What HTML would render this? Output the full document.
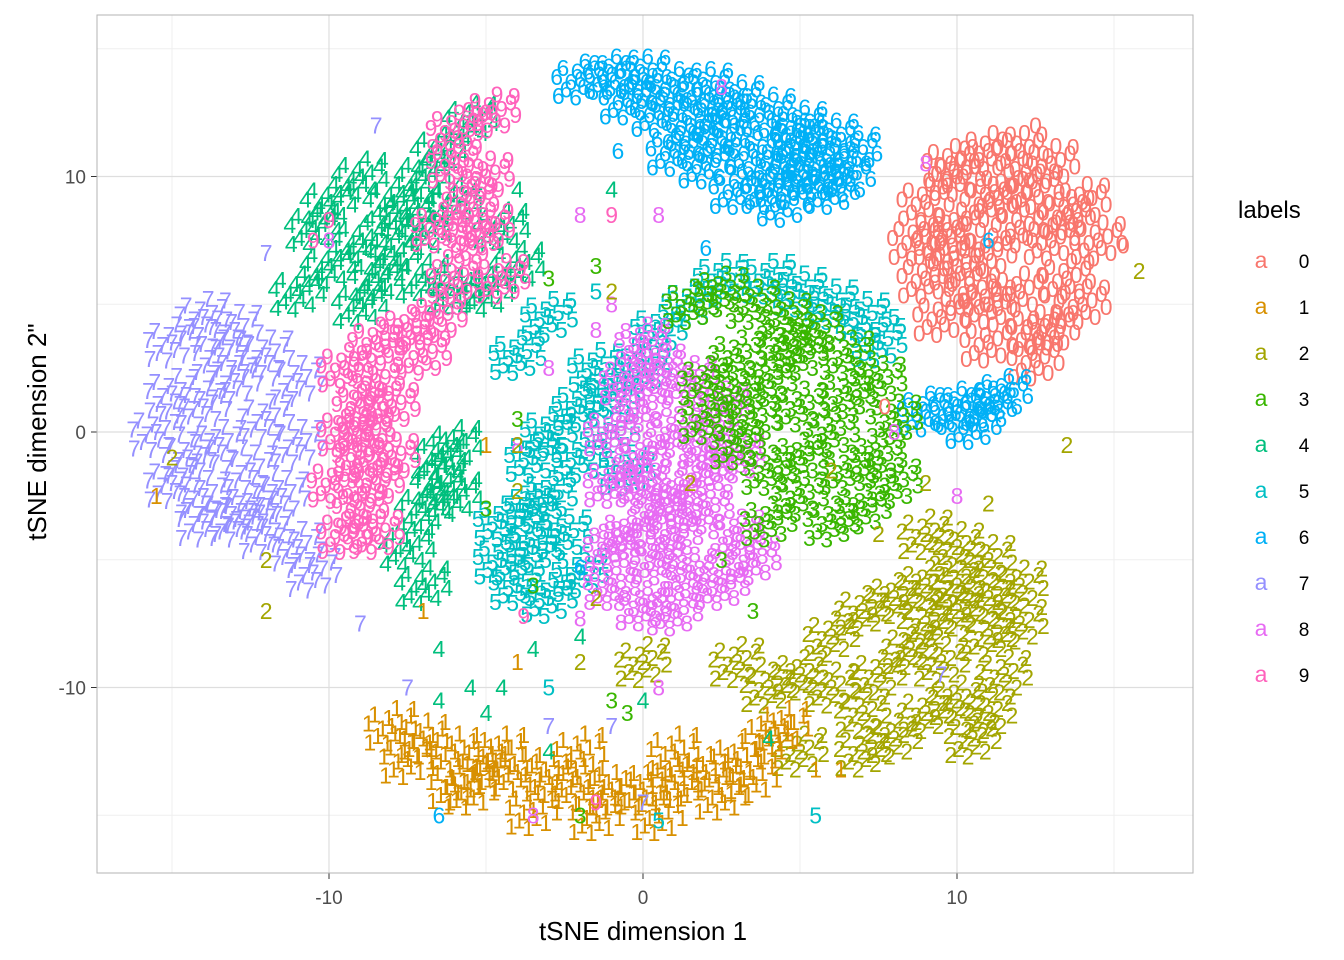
<!DOCTYPE html>
<html><head><meta charset="utf-8">
<style>
html,body{margin:0;padding:0;background:#fff;}
svg{display:block;font-family:"Liberation Sans",Arial,sans-serif;}
</style></head>
<body>
<svg id="chart" width="1344" height="960" viewBox="0 0 1344 960" xmlns="http://www.w3.org/2000/svg">
<rect x="0" y="0" width="1344" height="960" fill="#fff"/>
<g id="grid"></g>
<g id="marks"></g>
<rect x="97" y="15" width="1096" height="858" fill="none" stroke="#b3b3b3" stroke-width="1"/>
<g id="ticks"></g>
<text x="643" y="940" font-size="26" text-anchor="middle" fill="#000">tSNE dimension 1</text>
<text transform="translate(46,432) rotate(-90)" font-size="26" text-anchor="middle" fill="#000">tSNE dimension 2"</text>
<g id="legend">
<text x="1238" y="218" font-size="24" fill="#000">labels</text>
</g>
</svg>
<script>
const digits = ["0","1","2","3","4","5","6","7","8","9"];
const colors = ["#F8766D","#D89000","#A3A500","#39B600","#00BF7D","#00BFC4","#00B0F6","#9590FF","#E76BF3","#FF62BC"];
const xTicks = [-10,0,10];
const yTicks = [-10,0,10];
const xMinor = [-15,-5,5,15];
const yMinor = [-15,-5,5,15];
// dense cluster points
const pts0 = [[9,9],[10,10],[11,11],[12,11],[13,10.5],[14,9],[14.5,7.5],[13.5,6],[12.5,4],[11,3.5],[9.5,4.5],[9,6],[8.7,7.5],[10,8],[11,7],[12,8],[13,7.5],[10.5,5.5],[12,5.5],[11.5,9.5],[10,6.5],[13,4],[14,5],[9.8,10.5],[12.5,2.8],[11,5],[12.5,9.5],[13.5,8.5],[11,9],[9.5,7.5]];
const pts1 = [[-8,-11.5],[-7,-12],[-6,-12.5],[-5,-13],[-4,-13.3],[-3,-13.5],[-2,-13.8],[-1,-14],[0,-14],[1,-13.7],[2,-13.3],[3,-12.8],[4,-12],[4.5,-11.5],[-7.5,-12.8],[-5.5,-14],[-3.5,-14.8],[-1.5,-15],[0.5,-15],[2.5,-14.2],[-6,-13.8],[-2,-12.5],[1,-12.5],[-4.5,-12.5],[3.5,-13.5]];
const pts2 = [[9,-4],[10,-4.5],[11,-5],[12,-6],[12,-7.5],[11,-8],[10,-7],[9,-6],[8,-6.5],[8.5,-8.5],[9.5,-9],[10,-10.5],[9,-11],[8,-12],[7,-11],[6,-10],[5,-9.5],[6,-8],[7,-7],[11,-11],[10.5,-12],[11.5,-9.5],[5,-12.5],[0,-9],[3,-9],[4,-10],[10,-6],[7.5,-9.5],[9,-7.5],[11,-6.5],[7,-12.5]];
const pts3 = [[1.5,5],[2.5,5.5],[3.5,5],[4.5,4.5],[5.5,4],[6.5,3],[7.5,2],[8,0.5],[7.5,-1],[8,-2],[7,-3],[6,-3.5],[5,-2.5],[4,-1.5],[3,-0.5],[2,0.5],[2,2],[3,3],[4,2],[5,1],[6,0],[6.5,1.5],[5,3],[3.5,0.5],[4,-3.5],[6.5,-1.5],[5,-1],[3,1.5],[4.5,3.5]];
const pts4 = [[-11,5.5],[-10,6.5],[-9,7.5],[-8,9],[-7,10],[-6.5,11],[-5.5,12.2],[-10,9],[-9,10],[-8,7],[-7,6],[-6,5.5],[-5,5.5],[-4,6.5],[-4.5,8],[-7.5,8.5],[-9,5],[-6,-0.5],[-6.5,-2],[-7,-3],[-7.5,-4.5],[-6,-2.5],[-6.5,-1],[-7,-6],[-10.5,8],[-8.5,6],[-6,9],[-7,7.8]];
const pts5 = [[-4.5,-5],[-3.5,-4.5],[-2.5,-4],[-4,-6],[-3,-6.5],[-2,-5.5],[-4.5,-3.5],[-3,-2.5],[-3.5,-1],[-3,0],[-2,-1],[-2,1],[-1,1.5],[-1.5,2.5],[0,2.5],[0.5,4],[1.5,5],[2.5,6],[4,6],[5,5.5],[6,5],[7,4.5],[7.5,3.5],[-1,0],[-0.5,-1.5],[-4,3],[-3,4.5],[-3.5,-3]];
const pts6 = [[-2,13.8],[-1,14],[0,14],[1,13.5],[2,13.5],[3,13],[4,12.5],[5,12],[6,11.5],[6.7,11],[0.5,12.5],[1.5,12],[2.5,11.5],[3.5,11],[4.5,10.5],[5.5,10],[6,9.5],[3,9.5],[2,10.5],[4,9.5],[1,11],[5,11.5],[9,0.8],[10,1],[11,1],[11.5,1.5],[10.5,0.3],[-0.5,13],[2.5,12.5],[4.5,9],[5,10.5],[6.5,10]];
const pts7 = [[-15,3.5],[-14,4.5],[-13,4],[-12,3],[-11,2],[-15,1.5],[-14,1],[-13,2],[-12,0.5],[-11,-0.5],[-15.5,0],[-14.5,-1],[-13.5,-0.5],[-12.5,-1.5],[-11.5,-2.5],[-14,-2.5],[-13,-3.5],[-12,-4],[-11,-4.5],[-10.5,-5.5],[-15,-2],[-12.5,-3],[-13.5,3],[-14,-3.5]];
const pts8 = [[-0.5,2],[0.5,2.5],[1.5,2],[2.5,1],[-1,0],[0,1],[1,0],[2,-0.5],[3,-1],[-1,-2],[0,-2],[1,-2.5],[2,-3],[3,-4],[-0.5,-4],[0.5,-5],[1.5,-5.5],[2.5,-6],[-1,-6],[0,-6.8],[1,-7],[3.5,-5],[0,3.5],[0,-1],[1,-4],[2,-1.5],[-1,-4.5],[0.5,-3]];
const pts9 = [[-9.5,-4],[-9,-3],[-9.8,-2],[-9,-1],[-9.5,0],[-9,1],[-8.5,2],[-9.5,2.5],[-8.5,3.5],[-7.5,4],[-6.5,4.5],[-6,6],[-5.5,7.5],[-5.5,9],[-6,10.5],[-6,11.8],[-5,10],[-5,8],[-6.5,8],[-7,3],[-8,1],[-8,-1],[-8.5,-4],[-4.8,12.5],[-4.5,6],[-8.5,-2],[-8.8,0]];
// sparse outlier points
const out0 = [[7.7,1],[12.5,12],[15.3,7.3]];
const out1 = [[-15.5,-2.5],[-5,-0.5],[5.5,-13.2],[6.3,-13.2],[-7,-7],[-4,-9]];
const out2 = [[15.8,6.3],[13.5,-0.5],[9,-2],[-1.5,-6.5],[-4,-0.5],[-15,-1],[-12,-5],[-1,5.5],[6,-1.5],[-12,-7],[-2,-9],[-4,-2.3],[7.5,-4],[11,-2.8],[1.5,-2]];
const out3 = [[-5,-3],[-3,6],[-1.5,6.5],[-2,-15],[-1,-10.5],[-4,0.5],[-3.5,-6],[3.5,-7],[-0.5,-11],[2.5,-5]];
const out4 = [[-6.5,-8.5],[-5.5,-10],[-4.5,-10],[-3,-12.5],[-2,-8],[0,-10.5],[4,-12],[-4,9.5],[-1,9.5],[-5,-11],[-6.5,-10.5],[-3.5,-8.5]];
const out5 = [[5.5,-15],[-3,-10],[-1.5,5.5],[8,4.5],[0.5,-15.2]];
const out6 = [[-0.8,11],[11,7.5],[-6.5,-15],[2,7.2],[9.5,0.2],[-2,-5.3]];
const out7 = [[-8.5,12],[-12,7],[-9,-7.5],[-3,-11.5],[-7.5,-10],[-1,-11.5],[0,-14.5],[9.5,-9.5]];
const out8 = [[0.5,8.5],[2.5,13.5],[9,10.5],[10,-2.5],[-4,-0.5],[-2,-7.3],[-1.5,4],[-1,5],[-3,2.5],[-2,8.5],[8,0],[-10,7.5],[0.5,-10],[-3.5,-15]];
const out9 = [[-1.5,-14.5],[-10.5,7.5],[-10,8.3],[-5,12.5],[-3.8,-7.2],[-1,8.5]];
const series = [pts0,pts1,pts2,pts3,pts4,pts5,pts6,pts7,pts8,pts9];
const outliers = [out0,out1,out2,out3,out4,out5,out6,out7,out8,out9];

const NS = "http://www.w3.org/2000/svg";
function xs(v){ return 643 + v*31.4; }
function ys(v){ return 432 - v*25.55; }
const jit = [[0,0],[0.6,0.4],[-0.55,0.45],[0.4,-0.5],[-0.45,-0.4],[0.15,0.7],[-0.15,-0.7],[0.75,-0.1],[-0.75,0.1],[0.3,0.15],[-0.3,-0.1],[0.1,-0.3],[-0.1,0.3],[0.7,0.65],[-0.7,-0.65]];

const grid = document.getElementById('grid');
function line(x1,y1,x2,y2,c,w,name){
  const l = document.createElementNS(NS,'line');
  l.setAttribute('x1',x1);l.setAttribute('y1',y1);l.setAttribute('x2',x2);l.setAttribute('y2',y2);
  l.setAttribute('stroke',c);l.setAttribute('stroke-width',w);
  
  
  grid.appendChild(l);
}
xMinor.forEach(v=>line(xs(v),15,xs(v),873,'#efefef',1,'x-minor-gridline'));
yMinor.forEach(v=>line(97,ys(v),1193,ys(v),'#efefef',1,'y-minor-gridline'));
xTicks.forEach(v=>line(xs(v),15,xs(v),873,'#dedede',1.2,'x-major-gridline'));
yTicks.forEach(v=>line(97,ys(v),1193,ys(v),'#dedede',1.2,'y-major-gridline'));

const ticks = document.getElementById('ticks');
function txt(parent,x,y,s,size,fill,anchor,name){
  const t = document.createElementNS(NS,'text');
  t.setAttribute('x',x);t.setAttribute('y',y);t.setAttribute('font-size',size);
  t.setAttribute('fill',fill);t.setAttribute('text-anchor',anchor);
  t.textContent = s;
  
  
  parent.appendChild(t);
  return t;
}
xTicks.forEach(v=>{
  line(xs(v),873,xs(v),879,'#333',1,'x-tick');
  txt(ticks,xs(v),904,String(v),19,'#4d4d4d','middle','x-tick-label');
});
yTicks.forEach(v=>{
  line(91,ys(v),97,ys(v),'#333',1,'y-tick');
  txt(ticks,86,ys(v)+7,String(v),19,'#4d4d4d','end','y-tick-label');
});

const marks = document.getElementById('marks');
const order = [0,6,7,4,9,5,8,3,2,1];
function addGlyph(g,x,y,k){
  const t = document.createElementNS(NS,'text');
  t.setAttribute('x',xs(x));
  t.setAttribute('y',ys(y)+8);
  t.textContent = digits[k];
  
  
  g.appendChild(t);
}
order.forEach(k=>{
  const g = document.createElementNS(NS,'g');
  g.setAttribute('fill',colors[k]);
  g.setAttribute('font-size','23');
  g.setAttribute('text-anchor','middle');
  
  
  series[k].forEach(p=>{
    jit.forEach(j=>addGlyph(g,p[0]+j[0],p[1]+j[1],k));
  });
  marks.appendChild(g);
});
order.forEach(k=>{
  const g = document.createElementNS(NS,'g');
  g.setAttribute('fill',colors[k]);
  g.setAttribute('font-size','23');
  g.setAttribute('text-anchor','middle');
  
  
  outliers[k].forEach(p=>addGlyph(g,p[0],p[1],k));
  marks.appendChild(g);
});

const legend = document.getElementById('legend');
digits.forEach((d,i)=>{
  const y = 268 + i*46;
  txt(legend,1261,y,'a',23,colors[i],'middle','legend-key');
  txt(legend,1304,y,d,19,'#000','middle','legend-label');
});
</script>
</body></html>
